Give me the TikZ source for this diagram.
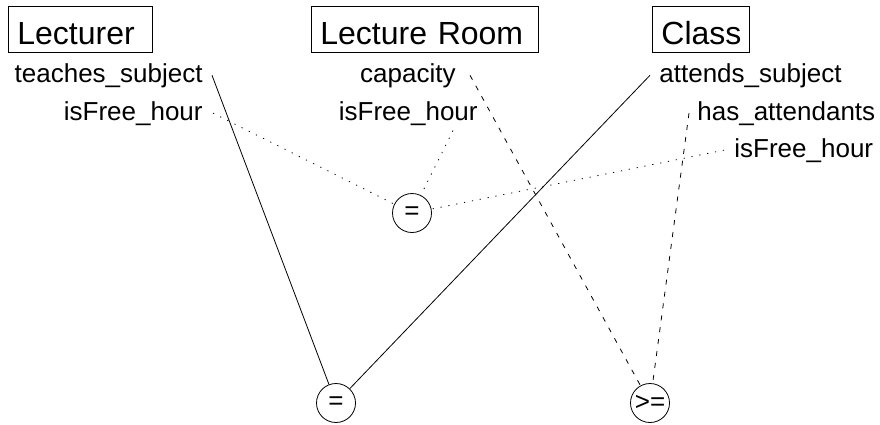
\documentclass[tikz,border=0pt]{standalone}
\usepackage{fontspec}
\setmainfont{Liberation Sans}

\begin{document}
\begin{tikzpicture}[x=1pt, y=-1pt, line width=0.8pt,
		entity/.style={draw, inner xsep=9pt, inner ysep=0pt, text height=38pt, text depth=8pt, align=left, anchor=base west, font=\fontsize{32}{32}\selectfont},
		attr/.style={inner sep=0pt, font=\fontsize{26}{26}\selectfont},
		op/.style={draw, circle, minimum size=39pt, inner sep=0pt, font=\fontsize{26}{26}\selectfont},
		dotline/.style={dash pattern=on 1.2pt off 6.8pt},
		dashline/.style={dash pattern=on 5pt off 7pt}]
			\useasboundingbox (0,0) rectangle (880,424);
			
			\node[entity, text width=126pt] (lec) at (8,44) {Lecturer};
			\node[entity, text width=209pt] (room) at (311,44) {Lecture Room};
			\node[entity, text width=79pt] (cls) at (652,44) {Class};
			
			\node[attr, anchor=base east] (ts) at (203,82) {teaches\_subject};
			\node[attr, anchor=base east] (lfree) at (203,120) {isFree\_hour};
			\node[attr, anchor=base east] (cap) at (456,82) {capacity};
			\node[attr, anchor=base east] (rfree) at (478,120) {isFree\_hour};
			\node[attr, anchor=base west] (as) at (659,82) {attends\_subject};
			\node[attr, anchor=base west] (ha) at (697,120) {has\_attendants};
			\node[attr, anchor=base west] (cfree) at (734,157) {isFree\_hour};
			
			\node[op] (eqa) at (412,213) {=};
			\node[op] (eqb) at (336,403) {=};
			\node[op] (ge) at (650,403) {>=};
			
			\draw ([xshift=9pt]ts.east) -- (eqb);
			\draw ([xshift=-9pt]as.west) -- (eqb);
			\draw[dotline] ([xshift=10pt]lfree.east) -- (eqa);
			\draw[dotline] ([xshift=-25pt,yshift=-5pt]rfree.south east) -- (eqa);
			\draw[dotline] ([xshift=-10pt]cfree.west) -- (eqa);
			\draw[dashline] ([xshift=14pt]cap.east) -- (ge);
			\draw[dashline] ([xshift=-8pt]ha.west) -- (ge);
		\end{tikzpicture}
\end{document}
